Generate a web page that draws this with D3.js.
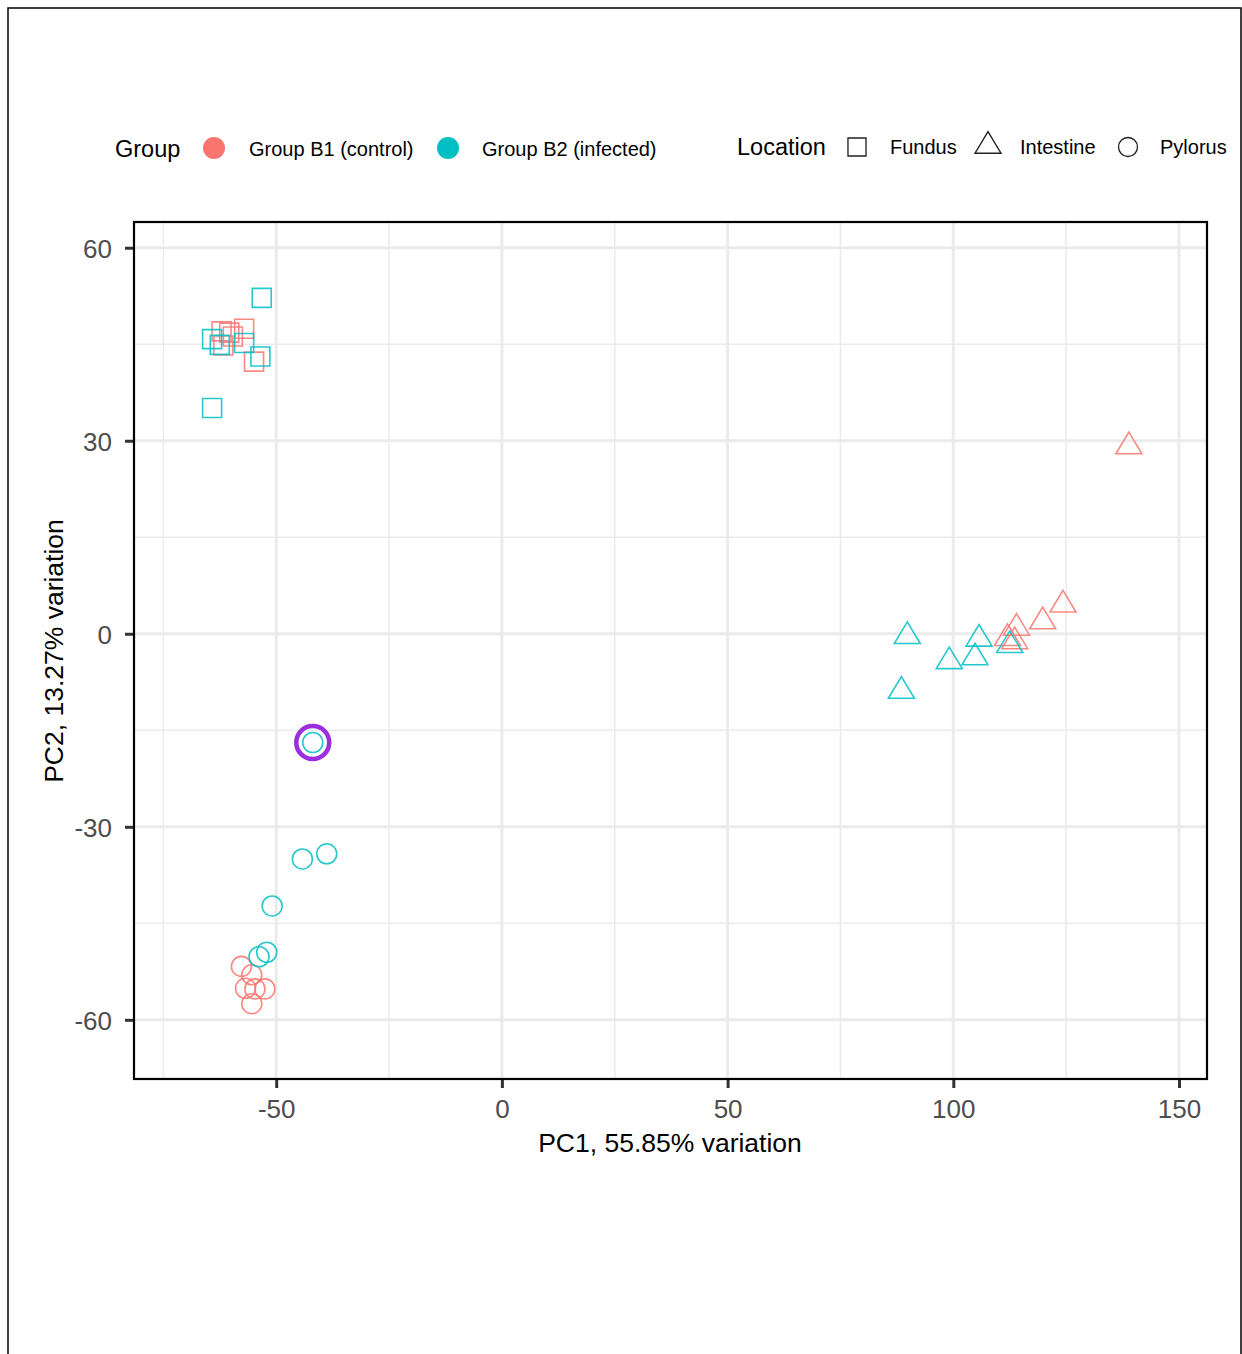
<!DOCTYPE html>
<html><head><meta charset="utf-8">
<script src="https://cdn.jsdelivr.net/npm/d3@7"></script>
<style>body{margin:0;background:#fff;} text{font-family:"Liberation Sans",Arial,sans-serif;}</style>
</head><body>
<svg id="c" width="1242" height="1354"></svg>
<script>
const groups = ["Group B1 (control)", "Group B2 (infected)"];
const groupColors = ["#F8766D", "#00BFC4"];
const locations = ["Fundus", "Intestine", "Pylorus"];
const xTicks = [-50, 0, 50, 100, 150];
const yTicks = [-60, -30, 0, 30, 60];
const xMinor = [-75, -25, 25, 75, 125];
const yMinor = [-45, -15, 15, 45];

// [PC1, PC2]
const b1Fundus = [[-62.1,47.0],[-60.4,46.8],[-57.1,47.4],[-61.7,44.8],[-54.9,42.3],[-59.6,46.2]];
const b2Fundus = [[-53.2,52.2],[-64.2,45.8],[-62.5,44.9],[-57.1,45.2],[-53.5,43.1],[-64.2,35.1]];
const b1Intestine = [[124.3,4.5],[119.8,1.9],[114.0,0.9],[112.0,-0.7],[113.6,-1.2],[138.9,29.1]];
const b2Intestine = [[89.8,-0.4],[88.5,-8.9],[99.1,-4.3],[105.7,-0.8],[104.8,-3.7],[112.5,-1.8]];
const b1Pylorus = [[-57.7,-51.7],[-55.4,-53.0],[-56.8,-55.1],[-54.7,-55.2],[-52.5,-55.2],[-55.4,-57.5]];
const b2Pylorus = [[-41.9,-16.9],[-44.2,-35.0],[-38.8,-34.2],[-50.9,-42.3],[-53.8,-50.2],[-52.1,-49.5]];
const highlighted = [-41.9,-16.9];

const series = [
  {g:0,loc:0,pts:b1Fundus},{g:1,loc:0,pts:b2Fundus},
  {g:0,loc:1,pts:b1Intestine},{g:1,loc:1,pts:b2Intestine},
  {g:0,loc:2,pts:b1Pylorus},{g:1,loc:2,pts:b2Pylorus}
];

const svg = d3.select("#c");
// outer frame
svg.append("rect").attr("x",8).attr("y",8).attr("width",1233).attr("height",1360)
  .attr("fill","none").attr("stroke","#000").attr("stroke-width",1.5);

const L=134, R=1207, T=222, B=1079;
const x = d3.scaleLinear().domain([-81.5,156.2]).range([L,R]);
const y = d3.scaleLinear().domain([-69.2,64.0]).range([B,T]);

const g = svg.append("g");
// grid
g.selectAll(".xm").data(xMinor).join("line").attr("x1",d=>x(d)).attr("x2",d=>x(d)).attr("y1",T).attr("y2",B).attr("stroke","#EBEBEB").attr("stroke-width",1.5);
g.selectAll(".ym").data(yMinor).join("line").attr("y1",d=>y(d)).attr("y2",d=>y(d)).attr("x1",L).attr("x2",R).attr("stroke","#EBEBEB").attr("stroke-width",1.5);
g.selectAll(".xM").data(xTicks).join("line").attr("x1",d=>x(d)).attr("x2",d=>x(d)).attr("y1",T).attr("y2",B).attr("stroke","#EBEBEB").attr("stroke-width",3);
g.selectAll(".yM").data(yTicks).join("line").attr("y1",d=>y(d)).attr("y2",d=>y(d)).attr("x1",L).attr("x2",R).attr("stroke","#EBEBEB").attr("stroke-width",3);

// axes
const fmt = d => String(d);
const xAxis = d3.axisBottom(x).tickValues(xTicks).tickSize(9).tickPadding(12).tickFormat(fmt);
const yAxis = d3.axisLeft(y).tickValues(yTicks).tickSize(9).tickPadding(13).tickFormat(fmt);
const gx = svg.append("g").attr("transform",`translate(0,${B})`).call(xAxis);
const gy = svg.append("g").attr("transform",`translate(${L},0)`).call(yAxis);
[gx,gy].forEach(a=>{
  a.select(".domain").remove();
  a.selectAll(".tick line").attr("stroke","#333").attr("stroke-width",3);
  a.selectAll(".tick text").attr("fill","#4D4D4D").style("font-size","26px");
});
gx.selectAll(".tick text").attr("dy","0.71em");
gy.selectAll(".tick text").attr("dy","0.36em");

// points
function shapePath(loc){
  if(loc===0) return "M-9.5,-9.5H9.5V9.5H-9.5Z";
  if(loc===1) return "M0,-14.4L13,7.2L-13,7.2Z";
  const p=d3.path(); p.arc(0,0,10,0,2*Math.PI); p.closePath(); return p.toString();
}
const pg = svg.append("g");
series.forEach(s=>{
  pg.selectAll(null).data(s.pts).join("path")
    .attr("d",shapePath(s.loc))
    .attr("transform",d=>`translate(${x(d[0])},${y(d[1])})`)
    .attr("fill","none").attr("stroke",groupColors[s.g]).attr("stroke-width",1.6).attr("stroke-opacity",0.85);
});
// highlight
svg.append("circle").attr("cx",x(highlighted[0])).attr("cy",y(highlighted[1])).attr("r",16.5)
  .attr("fill","none").attr("stroke","#9B2FE0").attr("stroke-width",4.5);

// panel border
svg.append("rect").attr("x",L).attr("y",T).attr("width",R-L).attr("height",B-T)
  .attr("fill","none").attr("stroke","#000").attr("stroke-width",2.2);

// axis titles
svg.append("text").attr("x",670).attr("y",1152).attr("text-anchor","middle").style("font-size","26.5px").text("PC1, 55.85% variation");
svg.append("text").attr("transform","translate(63,651) rotate(-90)").attr("text-anchor","middle").style("font-size","26.5px").text("PC2, 13.27% variation");

// legend
const lg = svg.append("g");
lg.append("text").attr("x",115).attr("y",157).style("font-size","23.5px").text("Group");
const gLx = [214, 448], gTx = [249, 482];
groups.forEach((n,i)=>{
  lg.append("circle").attr("cx",gLx[i]).attr("cy",148).attr("r",11).attr("fill",groupColors[i]);
  lg.append("text").attr("x",gTx[i]).attr("y",156).style("font-size","20px").text(n);
});
lg.append("text").attr("x",737).attr("y",155).style("font-size","23.5px").text("Location");
const lLx = [857, 988, 1128], lTx = [890, 1020, 1160], lLy=[147,146,147];
locations.forEach((n,i)=>{
  lg.append("path").attr("d",shapePath(i)).attr("transform",`translate(${lLx[i]},${lLy[i]}) scale(${i===1?1:0.95})`)
    .attr("fill","none").attr("stroke","#222").attr("stroke-width",1.4);
  lg.append("text").attr("x",lTx[i]).attr("y",154).style("font-size","20px").text(n);
});
</script>
</body></html>
